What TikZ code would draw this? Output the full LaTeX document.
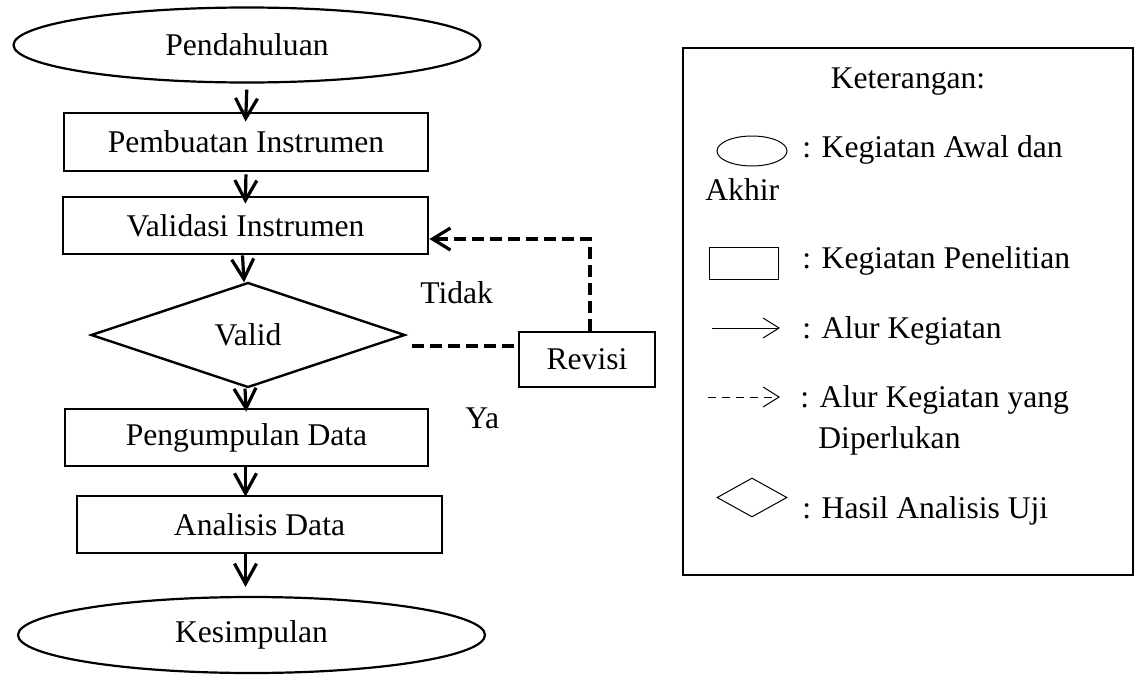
\documentclass[tikz,border=0pt]{standalone}
\usepackage{fontspec}
\setmainfont{Liberation Serif}
\usetikzlibrary{shapes.geometric,arrows.meta}
\begin{document}
\begin{tikzpicture}[x=0.5pt,y=-0.5pt,
  every node/.style={font=\fontsize{15.8}{19}\selectfont},
  box/.style={draw,line width=1.4pt,rectangle,inner sep=0pt},
  oval/.style={draw,line width=1.1pt,ellipse,inner sep=0pt},
  dia/.style={draw,line width=1.2pt,diamond,inner sep=0pt},
  arr/.style={line width=1.6pt,-{Straight Barb[length=10pt,width=11pt]}},
  dasharr/.style={line width=1.6pt,dash pattern=on 6pt off 3pt,-{Straight Barb[length=9pt,width=11pt]}},
  dline/.style={line width=1.6pt,dash pattern=on 6pt off 3pt},
  lthin/.style={line width=0.5pt},
  ltxt/.style={anchor=base west,inner sep=0pt}
]
\useasboundingbox (0,0) rectangle (1137,675);

% flowchart nodes
\node[oval,minimum width=233.5pt,minimum height=37.5pt] (pend) at (247,45) {Pendahuluan};
\node[box,minimum width=182pt,minimum height=29pt] (pemb) at (246,142) {Pembuatan Instrumen};
\node[box,minimum width=182.5pt,minimum height=28.5pt] (vali) at (245.5,225.5) {Validasi Instrumen};
\node[dia,minimum width=157pt,minimum height=52.5pt] (valid) at (248,335) {Valid};
\node[box,minimum width=68pt,minimum height=27.5pt] (rev) at (587,359.5) {Revisi};
\node[box,minimum width=181.5pt,minimum height=28.5pt] (peng) at (246.5,437.5) {Pengumpulan Data};
\node[box,minimum width=182.5pt,minimum height=28.5pt] (anal) at (259.5,524.5) {Analisis Data};
\node[oval,minimum width=233.5pt,minimum height=38pt] (kesi) at (251.5,635) {Kesimpulan};

\node[ltxt] (tidak) at (420,303) {Tidak};
\node[ltxt] (ya) at (465,428) {Ya};

% arrows
\draw[arr,shorten <=3pt,shorten >=-5pt] (pend.south) -- (pemb.north);
\draw[arr,shorten <=1pt,shorten >=-4pt] (pemb.south) -- (vali.north);
\draw[arr,shorten >=-0.5pt] ([xshift=-1.5pt]vali.south) -- ([xshift=-2pt]valid.north);
\draw[arr,shorten >=-2pt] ([xshift=-1.5pt]valid.south) -- ([xshift=-1pt]valid.south |- peng.north);
\draw[arr,shorten >=-1pt] ([xshift=-0.5pt]peng.south) -- ([xshift=-0.5pt]peng.south |- anal.north);
\draw[arr,shorten >=4.5pt] ([xshift=-0.5pt]peng.south |- anal.south) -- ([xshift=-0.5pt]peng.south |- kesi.north);

% dashed feedback
\coordinate (vstart) at (412,346);
\draw[dline] (vstart) -- (vstart -| rev.west);
\draw[dasharr] ([xshift=1.5pt]rev.north) |- ([yshift=-6.75pt]vali.east);

% legend
\node[draw,line width=1.3pt,rectangle,minimum width=225pt,minimum height=263.5pt,inner sep=0pt] (leg) at (908,311.5) {};
\node[anchor=base,inner sep=0pt] (ket) at (908,88) {Keterangan:};

\node[draw,lthin,ellipse,minimum width=35pt,minimum height=15pt,inner sep=0pt] (lell) at (752,151) {};
\node[ltxt] (t1) at (802,157) {: Kegiatan Awal dan};
\node[ltxt] (t1b) at (705,200) {Akhir};

\node[draw,lthin,rectangle,minimum width=34.5pt,minimum height=16pt,inner sep=0pt] (lrect) at (743.5,263) {};
\node[ltxt] (t2) at (802,268) {: Kegiatan Penelitian};

\coordinate (la1) at (712,328);
\coordinate (la2) at (780,328);
\draw[lthin,-{Straight Barb[length=8pt,width=10pt]}] (la1) -- (la2);
\node[ltxt] (t3) at (802,338) {: Alur Kegiatan};

\coordinate (ld1) at (708,397);
\coordinate (ld2) at (780,397);
\draw[lthin,dash pattern=on 4pt off 3pt,-{Straight Barb[length=8pt,width=10pt]}] (ld1) -- (ld2);
\node[ltxt] (t4) at (800,407) {: Alur Kegiatan yang};
\node[ltxt] (t4b) at (818,448) {Diperlukan};

\node[draw,lthin,diamond,minimum width=35pt,minimum height=19.5pt,inner sep=0pt] (ldia) at (752,497.5) {};
\node[ltxt] (t5) at (802,518) {: Hasil Analisis Uji};
\end{tikzpicture}
\end{document}
